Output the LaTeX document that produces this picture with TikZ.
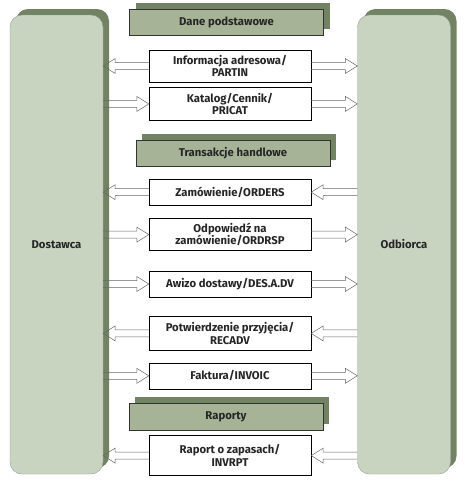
\documentclass[tikz,border=0pt]{standalone}
\usepackage{fontspec}
\setmainfont{Fira Sans}
\usepackage{tikz}
\usetikzlibrary{positioning, calc, shadows}

\definecolor{paleGreen}{HTML}{C9D4C0}
\definecolor{midGreen}{HTML}{A6B397}
\definecolor{darkGreen}{HTML}{718363}

% hollow block arrow from #1 (tail) to #2 (tip), horizontal only
\newcommand{\blockarrow}[2]{%
  \draw[blkarrow] let \p1=(#1), \p2=(#2), \n1={ifthenelse(\x2>\x1,1,-1)} in
    (\x1,\y1+3.5pt) -- (\x2-\n1*12pt,\y1+3.5pt) -- (\x2-\n1*12pt,\y1+7.5pt) -- (\x2,\y1)
    -- (\x2-\n1*12pt,\y1-7.5pt) -- (\x2-\n1*12pt,\y1-3.5pt) -- (\x1,\y1-3.5pt);
}

\begin{document}
\begin{tikzpicture}[
  x=1pt, y=-1pt,
  every node/.style={font=\fontsize{11.3}{12.5}\selectfont\bfseries, text=black!85},
  partner/.style={rectangle, rounded corners=12pt, draw=gray!80, fill=paleGreen, minimum width=93pt, minimum height=459pt,
    drop shadow={shadow xshift=6pt, shadow yshift=6pt, fill=darkGreen, opacity=1}},
  header/.style={rectangle, draw=black!80, fill=midGreen, minimum width=194pt, minimum height=26pt,
    drop shadow={shadow xshift=6pt, shadow yshift=6pt, fill=darkGreen, opacity=1}},
  message/.style={rectangle, draw=black, fill=white, minimum width=162pt, align=center, inner sep=2pt},
  blkarrow/.style={draw=gray!80!black, line width=0.5pt, line join=miter}
]
\useasboundingbox (0,0) rectangle (471,485);

% Partners
\node[partner] (dost) at (56.5,244.5) {Dostawca};
\node[partner] (odb) at (404,244.5) {Odbiorca};

% Basic data
\node[header] (hdrBase) at (226.5,22) {Dane podstawowe};
\node[message, minimum height=32pt] (msgPartin) at (230,66) {Informacja adresowa/\\PARTIN};
\node[message, minimum height=33pt, below=5pt of msgPartin] (msgPricat) {Katalog/Cennik/\\PRICAT};

% Trade transactions
\node[header, below=19pt of msgPricat, xshift=3pt] (hdrTrade) {Transakcje handlowe};
\node[message, minimum height=26pt, below=13pt of msgPricat.south |- hdrTrade.south, anchor=north] (msgOrders) {Zamówienie/ORDERS};
\node[message, minimum height=32pt, below=13pt of msgOrders] (msgOrdrsp) {Odpowiedź na\\zamówienie/ORDRSP};
\node[message, minimum height=26pt, below=20pt of msgOrdrsp] (msgDesadv) {Awizo dostawy/DES.A.DV};
\node[message, minimum height=34pt, below=19pt of msgDesadv] (msgRecadv) {Potwierdzenie przyjęcia/\\RECADV};
\node[message, minimum height=26pt, below=12pt of msgRecadv] (msgInvoic) {Faktura/INVOIC};

% Reports
\node[header, minimum height=27pt, below=14pt of msgInvoic, xshift=-4pt] (hdrReport) {Raporty};
\node[message, minimum height=40pt, below=5pt of msgInvoic.south |- hdrReport.south, anchor=north] (msgInvrpt) {Raport o zapasach/\\INVRPT};

% Arrows
\foreach \m in {msgPricat, msgOrdrsp, msgDesadv, msgInvoic} {
  \blockarrow{dost.east |- \m.west}{\m.west}
  \blockarrow{\m.east}{odb.west |- \m.east}
}
\foreach \m in {msgOrders, msgRecadv, msgInvrpt} {
  \blockarrow{odb.west |- \m.east}{\m.east}
  \blockarrow{\m.west}{dost.east |- \m.west}
}
\blockarrow{msgPartin.west}{dost.east |- msgPartin.west}
\blockarrow{msgPartin.east}{odb.west |- msgPartin.east}

\end{tikzpicture}
\end{document}
